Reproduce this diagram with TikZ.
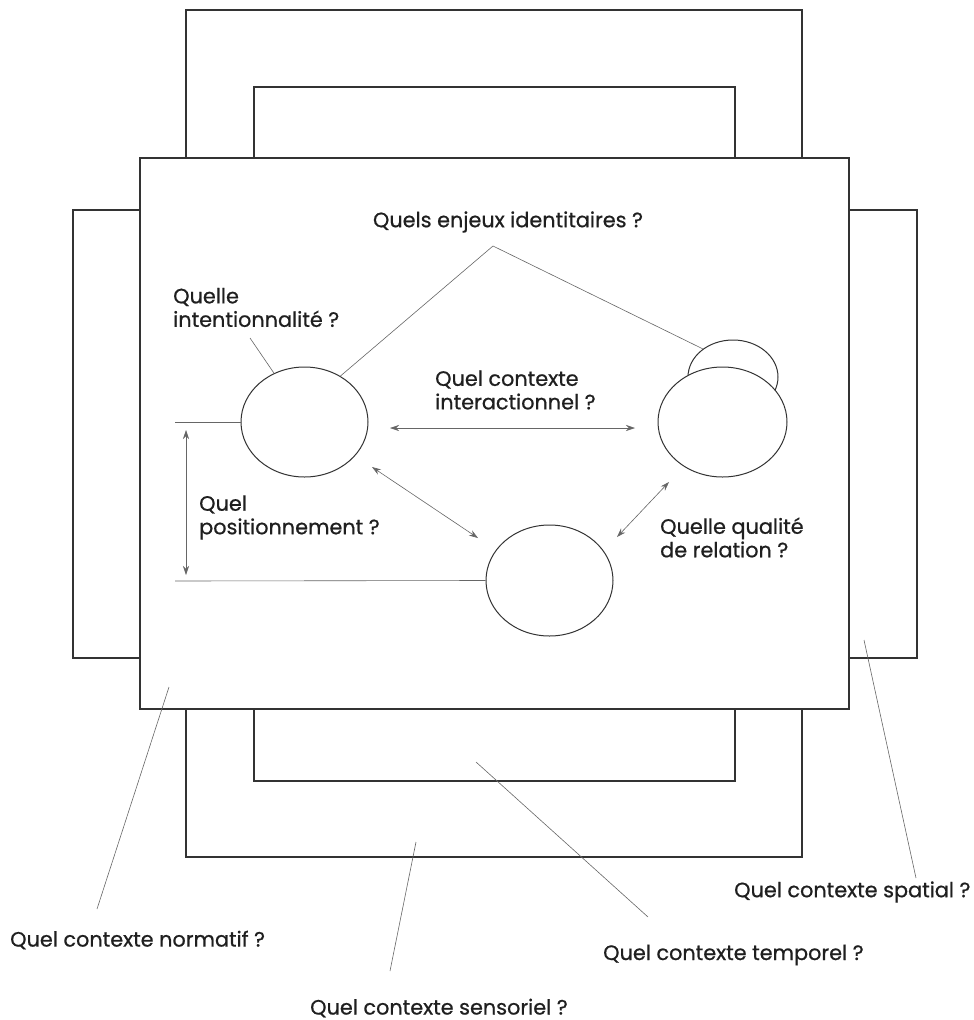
\documentclass[tikz,border=0pt]{standalone}
\usepackage{fontspec}
\setmainfont{Poppins}[RawFeature={embolden=0.7}]
\usetikzlibrary{shapes.geometric,arrows.meta}
\begin{document}
\begin{tikzpicture}[x=1pt,y=-1pt,
  frame/.style={draw=black!80, line width=1.1pt},
  thinline/.style={draw=black!60, line width=0.6pt},
  dbl/.style={thinline, {Stealth[length=9pt,width=6pt]}-{Stealth[length=9pt,width=6pt]}},
  lbl/.style={font=\fontsize{20.8}{23.5}\selectfont, text=black!88, align=left, inner sep=0pt},
  circ/.style={ellipse, draw=black!80, line width=1pt, fill=white, inner sep=0pt}]
\useasboundingbox (0,0) rectangle (974,1020);
% background frames
\draw[frame] (186,10) rectangle (802,857);
\draw[frame] (254,87) rectangle (735,781);
\draw[frame] (73,210) rectangle (917,658);
\draw[frame, fill=white] (140,158) rectangle (849,709);
% ellipses
\node[circ, minimum width=90, minimum height=74] (small) at (733,377) {};
\node[circ, minimum width=129, minimum height=110] (right) at (722.5,422) {};
\node[circ, minimum width=127, minimum height=110] (left) at (304.5,422) {};
\node[circ, minimum width=127, minimum height=111] (bottom) at (549.5,580.5) {};
% identity lines
\coordinate (apex) at (493,246);
\draw[thinline] (left.52) -- (apex) -- (small.137);
% intentionality leader
\coordinate (intS) at (250,338);
\draw[thinline] (intS) -- (left.122);
% positioning lines
\coordinate (hA) at (175,422);
\coordinate (hB) at (175,581);
\draw[thinline] (hA) -- (left.west);
\draw[thinline] (hB) -- (bottom.west);
\coordinate (vA) at (186,430);
\coordinate (vB) at (186,575);
\draw[dbl] (vA) -- (vB);
% interaction arrows
\coordinate (iA) at (390,428);
\coordinate (iB) at (635,428);
\draw[dbl] (iA) -- (iB);
\coordinate (dA) at (372,467);
\coordinate (dB) at (478,538);
\draw[dbl] (dA) -- (dB);
\coordinate (rA) at (669,482);
\coordinate (rB) at (617,537);
\draw[dbl] (rA) -- (rB);
% labels inside
\node[lbl] (tId) at (508,222) {Quels enjeux identitaires ?};
\node[lbl, anchor=west] (tInt) at (173,307.5) {Quelle\\intentionnalité ?};
\node[lbl, anchor=west] (tInter) at (435,390) {Quel contexte\\interactionnel ?};
\node[lbl, anchor=west] (tPos) at (199,517.5) {Quel\\positionnement ?};
\node[lbl, anchor=west] (tQual) at (660,537.5) {Quelle qualité\\de relation ?};
% outside labels and leaders
\node[lbl, anchor=west] (tNorm) at (10,940) {Quel contexte normatif ?};
\node[lbl, anchor=west] (tSens) at (310,1008) {Quel contexte sensoriel ?};
\node[lbl, anchor=west] (tTemp) at (603,955) {Quel contexte temporel ?};
\node[lbl, anchor=west] (tSpat) at (734,892) {Quel contexte spatial ?};
\coordinate (nS) at (169,687);
\coordinate (nE) at (97,909);
\draw[thinline] (nS) -- (nE);
\coordinate (sS) at (416,842);
\coordinate (sE) at (390,971);
\draw[thinline] (sS) -- (sE);
\coordinate (tS) at (476,762);
\coordinate (tE) at (648,917);
\draw[thinline] (tS) -- (tE);
\coordinate (pS) at (864,640);
\coordinate (pE) at (916,878);
\draw[thinline] (pS) -- (pE);
\end{tikzpicture}
\end{document}
